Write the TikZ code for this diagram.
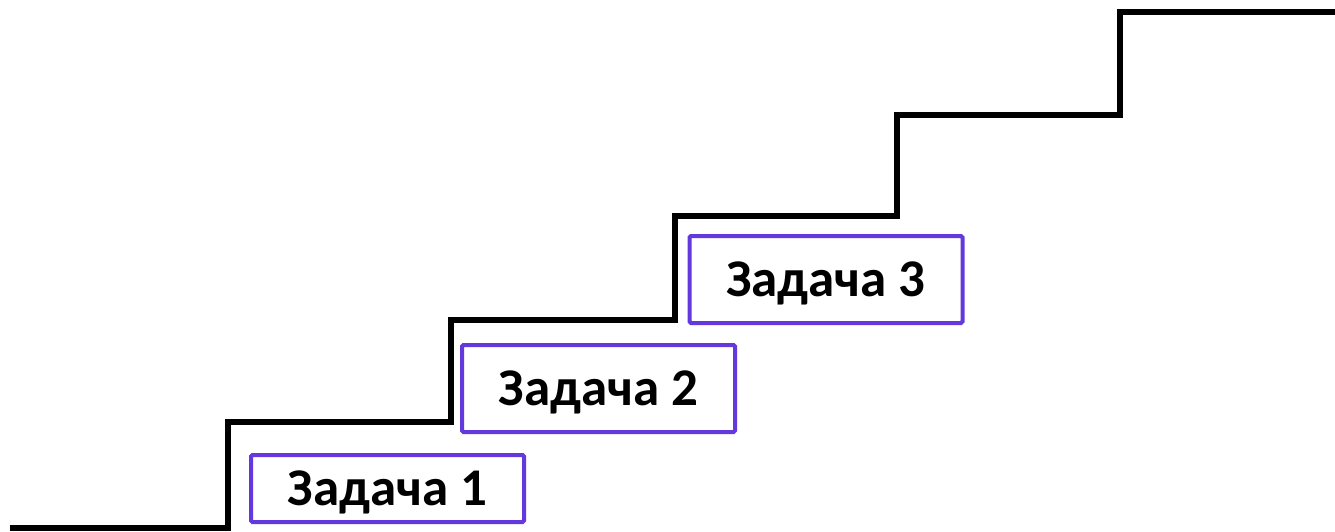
\documentclass[tikz,border=0pt]{standalone}
\usepackage{fontspec}
\setmainfont{Carlito}
\definecolor{boxpurple}{RGB}{99,56,220}
\begin{document}
\begin{tikzpicture}[x=1pt,y=-1pt,
  stair/.style={line width=6pt,line join=miter,black},
  taskbox/.style={draw=boxpurple,line width=4pt,rounded corners=1.5pt,fill=white,
    minimum width=273pt,inner sep=0pt,text height=33pt,text depth=0pt,
    font=\fontsize{53}{60}\selectfont\bfseries,text=black}]
\useasboundingbox (0,0) rectangle (1335,532);
\coordinate (s0) at (10,528);
\coordinate (s1) at (228,528);
\coordinate (s2) at (228,422);
\coordinate (s3) at (451,422);
\coordinate (s4) at (451,320);
\coordinate (s5) at (675,320);
\coordinate (s6) at (675,216);
\coordinate (s7) at (897,216);
\coordinate (s8) at (897,115);
\coordinate (s9) at (1120,115);
\coordinate (s10) at (1120,12);
\coordinate (s11) at (1340,12);
\draw[stair] (s0) -- (s1) -- (s2) -- (s3) -- (s4) -- (s5) -- (s6) -- (s7) -- (s8) -- (s9) -- (s10) -- (s11);
\node[taskbox,minimum height=67pt] (t1) at (387.5,488.5) {Задача 1};
\node[taskbox,minimum height=87pt] (t2) at (598.5,388.5) {Задача 2};
\node[taskbox,minimum height=87pt] (t3) at (826,279.5) {Задача 3};
\end{tikzpicture}
\end{document}
